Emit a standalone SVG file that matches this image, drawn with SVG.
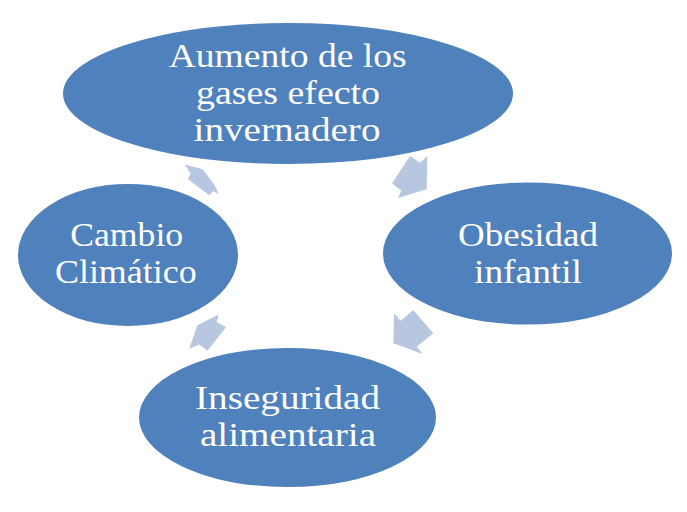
<svg xmlns="http://www.w3.org/2000/svg" width="687" height="512" viewBox="0 0 687 512">
<style>
.node{fill:#4F81BD;stroke:#FFFFFF;stroke-width:2}
.lbl{font-family:"Liberation Serif","DejaVu Serif",serif;font-size:34px;fill:#FFFFFF;text-anchor:middle}
.arr{fill:#B8C7E0;stroke:none}
</style>
<rect width="687" height="512" fill="#FFFFFF"/>
<g id="connectors">
<polygon class="arr" points="392,183.3 410,156 420,162.7 427.3,156 426.7,189.3 398,198 401.3,190.7"/>
<polygon class="arr" points="413.3,310 433.3,333.3 416.7,346.7 422.7,354 393.3,343.3 394,313.3 400.7,320.7"/>
<polygon class="arr" points="226,327.3 216.5,322 218.7,314.5 197.3,325.3 189.3,348.7 199,344.5 207.5,350.7"/>
<polygon class="arr" points="185,164.5 202.7,169.3 214.7,185.3 218.7,194 213.3,191 209.3,195.3 188,179.3 190.5,173.5"/>
</g>
<g id="node-aumento">
<ellipse class="node" cx="288" cy="93.5" rx="226" ry="71.5"/>
<text class="lbl" x="287.7" y="66.7" textLength="238" lengthAdjust="spacingAndGlyphs">Aumento de los</text>
<text class="lbl" x="288" y="103.6" textLength="184" lengthAdjust="spacingAndGlyphs">gases efecto</text>
<text class="lbl" x="287" y="140.5" textLength="187" lengthAdjust="spacingAndGlyphs">invernadero</text>
</g>
<g id="node-obesidad">
<ellipse class="node" cx="527.5" cy="253.5" rx="145.5" ry="72"/>
<text class="lbl" x="528" y="246" textLength="140" lengthAdjust="spacingAndGlyphs">Obesidad</text>
<text class="lbl" x="528" y="282.5" textLength="108" lengthAdjust="spacingAndGlyphs">infantil</text>
</g>
<g id="node-inseguridad">
<ellipse class="node" cx="287.5" cy="417.5" rx="149.5" ry="70.5"/>
<text class="lbl" x="287.5" y="409" textLength="185" lengthAdjust="spacingAndGlyphs">Inseguridad</text>
<text class="lbl" x="288" y="446" textLength="176" lengthAdjust="spacingAndGlyphs">alimentaria</text>
</g>
<g id="node-cambio">
<ellipse class="node" cx="128" cy="255" rx="111" ry="72"/>
<text class="lbl" x="126.7" y="246" textLength="113" lengthAdjust="spacingAndGlyphs">Cambio</text>
<text class="lbl" x="125.8" y="283.3" textLength="141.7" lengthAdjust="spacingAndGlyphs">Climático</text>
</g>
</svg>
